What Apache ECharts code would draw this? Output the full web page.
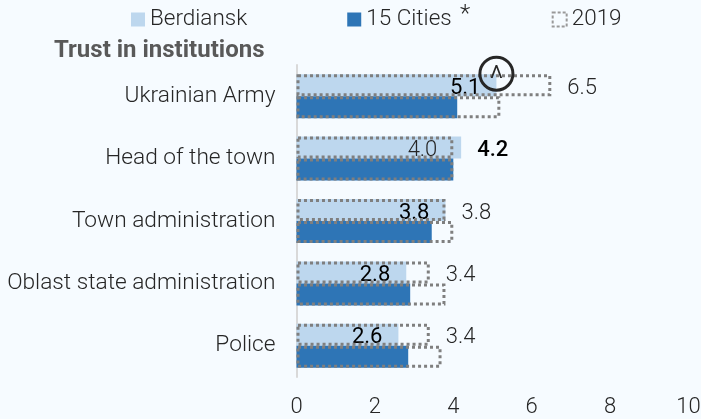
<!DOCTYPE html>
<html>
<head>
<meta charset="utf-8">
<style>
  html, body { margin: 0; padding: 0; background: #f6fbff; }
  #chart { width: 701px; height: 419px; }
</style>
<script src="https://cdn.jsdelivr.net/npm/echarts@6/dist/echarts.min.js"></script>
</head>
<body>
<div id="chart"></div>
<script>
const categories = ['Ukrainian Army', 'Head of the town', 'Town administration', 'Oblast state administration', 'Police']
const berdiansk = [5.1, 4.2, 3.8, 2.8, 2.6]
const cities = [4.1, 4.0, 3.45, 2.9, 2.85]
const berdiansk2019 = [6.5, 4.0, 3.8, 3.4, 3.4]
const cities2019 = [5.2, 4.0, 4.0, 3.8, 3.7]
const xTicks = [0, 2, 4, 6, 8, 10]

const font = 'Roboto, sans-serif'
const lightBlue = '#bdd7ee', darkBlue = '#2e75b6', dots = '#7f7f7f'

const dotted = { color: 'rgba(0,0,0,0)', borderColor: dots, borderWidth: 3, borderType: [3, 3] }
const catAxis = (show) => ({
  type: 'category', data: categories, inverse: true, show,
  axisLine: { lineStyle: { color: '#d9d9d9', width: 2 } }, axisTick: { show: false },
  axisLabel: { color: '#262626', fontFamily: font, fontWeight: 300, fontSize: 22.7, margin: 21,
    padding: [5, 0, 0, 0] },
})

const chart = echarts.init(document.getElementById('chart'))
chart.setOption({
  backgroundColor: '#f6fbff',
  animation: false,
  textStyle: { fontFamily: font },
  title: {
    text: 'Trust in institutions', left: 49, top: 34,
    textStyle: { color: '#595959', fontFamily: font, fontWeight: 700, fontSize: 24 },
  },
  legend: {
    left: 126, top: 3, itemGap: 100, itemWidth: 14, itemHeight: 14, icon: 'rect',
    data: ['Berdiansk', '15 Cities',
      { name: '2019', itemStyle: { color: 'rgba(0,0,0,0)', borderColor: '#999', borderWidth: 2, borderType: [3, 2] } }],
    textStyle: { color: '#262626', fontFamily: font, fontWeight: 300, fontSize: 22.5 },
  },
  graphic: [{ type: 'text', left: 460, top: 3, style: { text: '*', fill: '#262626', font: '300 24px ' + font } }],
  // "10" hangs past the window edge in the original, so no outer bounds
  grid: { left: 296.5, width: 392, top: 65, height: 312, outerBoundsMode: 'none' },
  xAxis: {
    type: 'value', min: 0, max: 10, interval: 2,
    splitLine: { show: false }, axisLine: { show: false }, axisTick: { show: false },
    axisLabel: { color: '#262626', fontFamily: font, fontWeight: 300, fontSize: 22, margin: 19,
      customValues: xTicks },
  },
  yAxis: [catAxis(true), catAxis(false)],
  series: [
    {
      name: 'Berdiansk', type: 'bar', yAxisIndex: 0, barWidth: 22, barGap: 0, z: 2,
      // 4.2 sits outside its bar
      data: berdiansk.map((v, i) => i === 1 ? { value: v, label: { position: 'right', fontWeight: 500 } } : v),
      itemStyle: { color: lightBlue },
      label: { show: true, position: 'insideRight', distance: 16, offset: [0, 3], color: '#000', fontFamily: font,
        fontWeight: 400, fontSize: 22, formatter: (p) => p.value.toFixed(1) },
      markPoint: {
        symbol: 'circle', symbolSize: 33, symbolOffset: [0, -11.5], z: 6, silent: true,
        itemStyle: { color: 'rgba(0,0,0,0)', borderColor: '#262626', borderWidth: 3 },
        label: { show: true, position: 'inside', formatter: 'Λ', color: '#262626', fontFamily: font, fontWeight: 400, fontSize: 19 },
        data: [{ coord: [berdiansk[0], categories[0]] }],
      },
    },
    {
      name: '15 Cities', type: 'bar', yAxisIndex: 0, data: cities, barWidth: 22, barGap: 0, z: 2,
      itemStyle: { color: darkBlue },
    },
    {
      name: '2019', type: 'bar', yAxisIndex: 1, barWidth: 22, barGap: 0, z: 3,
      // 4.0 sits inside its bar
      data: berdiansk2019.map((v, i) => i === 1 ? { value: v, label: { position: 'insideRight' } } : v),
      itemStyle: dotted,
      label: { show: true, position: 'right', distance: 16, offset: [0, 3], color: '#262626', fontFamily: font,
        fontWeight: 300, fontSize: 22, formatter: (p) => p.value.toFixed(1) },
    },
    {
      name: '2019', type: 'bar', yAxisIndex: 1, data: cities2019, barWidth: 22, barGap: 0, z: 3,
      itemStyle: dotted,
    },
  ],
})
</script>
</body>
</html>
